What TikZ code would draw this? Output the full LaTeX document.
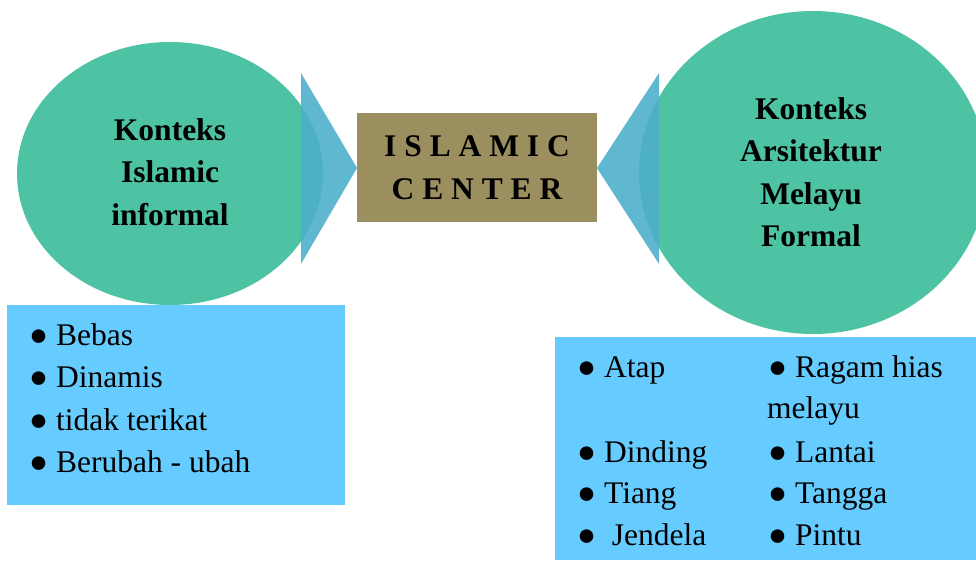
\documentclass[tikz,border=0pt]{standalone}
\usepackage{fontspec}
\setmainfont{Liberation Serif}
\usepackage{tikz}
\usetikzlibrary{shapes.geometric}
\definecolor{bulatgreen}{HTML}{4EC3A3}
\definecolor{panahblue}{HTML}{4FAFCB}
\definecolor{kotakolive}{HTML}{9C8F5F}
\definecolor{daftarblue}{HTML}{66CCFF}
\tikzset{bulat/.style={ellipse, fill=bulatgreen, inner sep=0pt}, panah/.style={fill=panahblue, fill opacity=.9}, judul/.style={font=\fontsize{31.5}{42.5}\selectfont\bfseries, align=center}, butir/.style={anchor=base west, font=\fontsize{31.5}{37}\selectfont, inner sep=0pt}, daftar/.style={fill=daftarblue, anchor=north west, inner sep=0pt}}

\begin{document}
\begin{tikzpicture}[x=1pt, y=-1pt]
\useasboundingbox (0,0) rectangle (976,560);
 \node[bulat, minimum width=306pt, minimum height=263pt] (kiri) at (170,173.5) {};
 \node[bulat, minimum width=348pt, minimum height=323pt] (kanan) at (813,172.5) {};
  \fill[panah] (301,73) -- (357,168) -- (301,264) -- cycle;
  \fill[panah] (659,73) -- (597,168) -- (659,264) -- cycle;
 \node[fill=kotakolive, minimum width=240pt, minimum height=109pt, judul] (pusat) at (477,167.5) {I S L A M I C\\C E N T E R};
 \node[judul] (teksKiri) at (170,172) {Konteks\\Islamic\\informal};
 \node[judul] (teksKanan) at (811,172) {Konteks\\Arsitektur\\Melayu\\Formal};
 \node[daftar, minimum width=338pt, minimum height=200pt] (daftarKiri) at (7,305) {};
 \node[daftar, minimum width=421pt, minimum height=223pt] (daftarKanan) at (555,337) {};
  \node[butir] (bebas) at (29,345) {● Bebas};
  \node[butir] (dinamis) at (29,387) {● Dinamis};
  \node[butir] (terikat) at (29,430) {● tidak terikat};
  \node[butir] (berubah) at (29,472.5) {● Berubah - ubah};
  \node[butir] (atap) at (577,377) {● Atap};
  \node[butir] (ragam) at (768,377) {● Ragam hias};
  \node[butir] (melayu) at (767,418) {melayu};
  \node[butir] (dinding) at (577,462) {● Dinding};
  \node[butir] (lantai) at (768,462) {● Lantai};
  \node[butir] (tiang) at (577,503) {● Tiang};
  \node[butir] (tangga) at (768,503) {● Tangga};
  \node[butir] (jendela) at (577,545) {●\ \ Jendela};
  \node[butir] (pintu) at (768,545) {● Pintu};
\end{tikzpicture}
\end{document}
